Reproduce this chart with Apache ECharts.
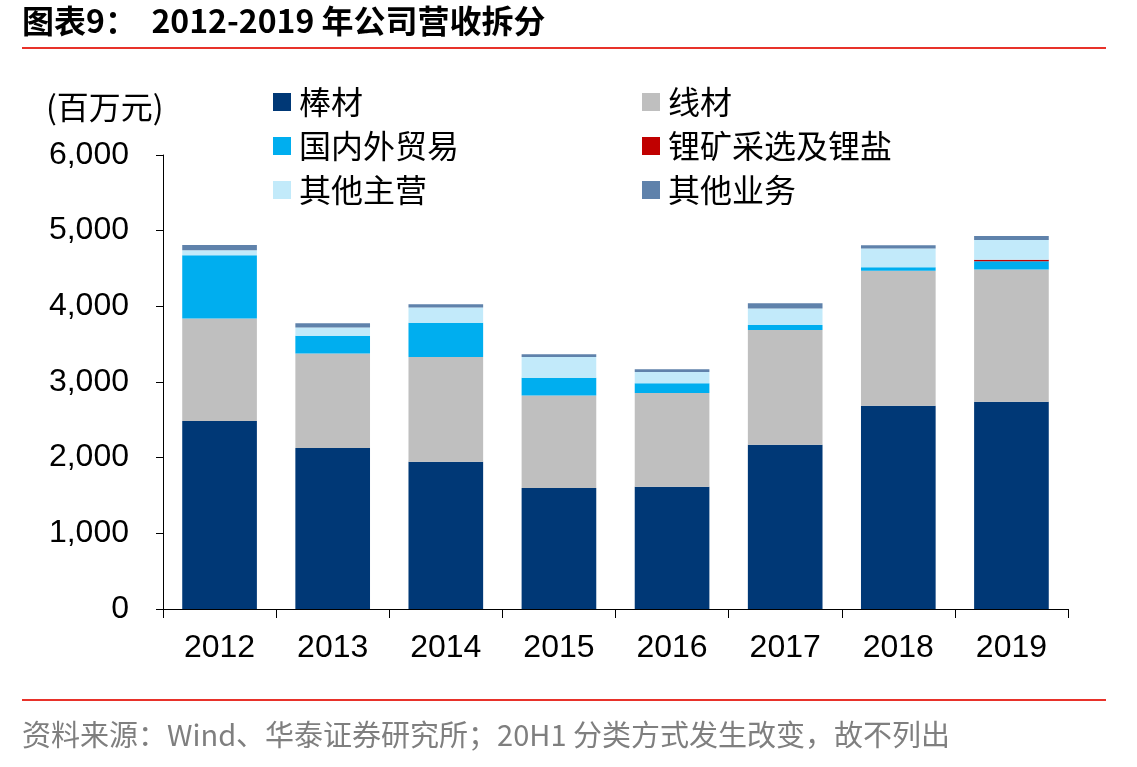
<!DOCTYPE html>
<html>
<head>
<meta charset="utf-8">
<script src="https://cdn.jsdelivr.net/npm/echarts@6/dist/echarts.min.js"></script>
<style>
  html, body { margin: 0; padding: 0; background: #fff; }
  #main { width: 1137px; height: 767px; }
</style>
</head>
<body>
<div id="main"></div>
<script>
// 年份
const years = ['2012', '2013', '2014', '2015', '2016', '2017', '2018', '2019']

// 各业务营收（百万元）
const bangCai = [2483, 2127, 1946, 1598, 1616, 2171, 2686, 2739]
const xianCai = [1357, 1250, 1383, 1225, 1237, 1515, 1783, 1748]
const maoYi = [836, 233, 453, 233, 132, 66, 49, 110]
const liKuang = [0, 0, 0, 0, 0, 0, 0, 20]
const qiTaZhuYing = [66, 111, 203, 273, 146, 220, 247, 259]
const qiTaYeWu = [70, 57, 44, 39, 39, 70, 43, 53]

const yTicks = [0, 1000, 2000, 3000, 4000, 5000, 6000]

const CJK = '"Noto Sans CJK SC", sans-serif'
const LATIN = '"Liberation Sans", Arial, sans-serif'

const chart = echarts.init(document.getElementById('main'))

function bar(name, data, color) {
    return {
        name: name,
        type: 'bar',
        stack: 'total',
        data: data,
        barCategoryGap: '34%',
        itemStyle: { color: color },
        emphasis: { disabled: true }
    }
}

const legendText = { fontFamily: CJK, fontSize: 32, color: '#000', lineHeight: 34, padding: [0, 0, 0, 3] }

chart.setOption({
    animation: false,
    grid: { left: 163, right: 69, top: 155, bottom: 158 },
    legend: [
        {
            orient: 'vertical',
            left: 268, top: 80,
            itemWidth: 18, itemHeight: 18, itemGap: 10,
            icon: 'rect',
            textStyle: legendText,
            data: ['棒材', '国内外贸易', '其他主营']
        },
        {
            orient: 'vertical',
            left: 637, top: 80,
            itemWidth: 18, itemHeight: 18, itemGap: 10,
            icon: 'rect',
            textStyle: legendText,
            data: ['线材', '锂矿采选及锂盐', '其他业务']
        }
    ],
    xAxis: {
        type: 'category',
        data: years,
        axisLine: { lineStyle: { color: '#000', width: 1 } },
        axisTick: { show: true, length: 9, lineStyle: { color: '#000' } },
        axisLabel: { fontFamily: LATIN, fontSize: 32, color: '#000', margin: 23 }
    },
    yAxis: {
        type: 'value',
        min: yTicks[0],
        max: yTicks[yTicks.length - 1],
        interval: 1000,
        axisLine: { show: true, lineStyle: { color: '#000', width: 1 } },
        axisTick: { show: true, length: 7, lineStyle: { color: '#000' } },
        splitLine: { show: false },
        axisLabel: {
            fontFamily: LATIN, fontSize: 32, color: '#000', margin: 34,
            formatter: v => v.toLocaleString('en-US')
        }
    },
    series: [
        bar('棒材', bangCai, '#003876'),
        bar('线材', xianCai, '#bfbfbf'),
        bar('国内外贸易', maoYi, '#00aeef'),
        bar('锂矿采选及锂盐', liKuang, '#c00000'),
        bar('其他主营', qiTaZhuYing, '#c2eafa'),
        bar('其他业务', qiTaYeWu, '#5f82ab')
    ],
    graphic: [
        {
            type: 'text', left: 22, top: 5,
            style: {
                text: '图表9：  2012-2019 年公司营收拆分',
                font: 'bold 32px ' + CJK,
                fill: '#000'
            }
        },
        {
            type: 'line',
            shape: { x1: 22, y1: 48, x2: 1106, y2: 48 },
            style: { stroke: '#e8322a', lineWidth: 2 }
        },
        {
            type: 'text', left: 46, top: 91,
            style: {
                text: '(百万元)',
                font: '32px ' + CJK,
                fill: '#000'
            }
        },
        {
            type: 'line',
            shape: { x1: 22, y1: 700, x2: 1106, y2: 700 },
            style: { stroke: '#e8322a', lineWidth: 2 }
        },
        {
            type: 'text', left: 22, top: 720,
            style: {
                text: '资料来源：Wind、华泰证券研究所；20H1 分类方式发生改变，故不列出',
                font: '29px ' + CJK,
                fill: '#7f7f7f'
            }
        }
    ]
})
</script>
</body>
</html>
